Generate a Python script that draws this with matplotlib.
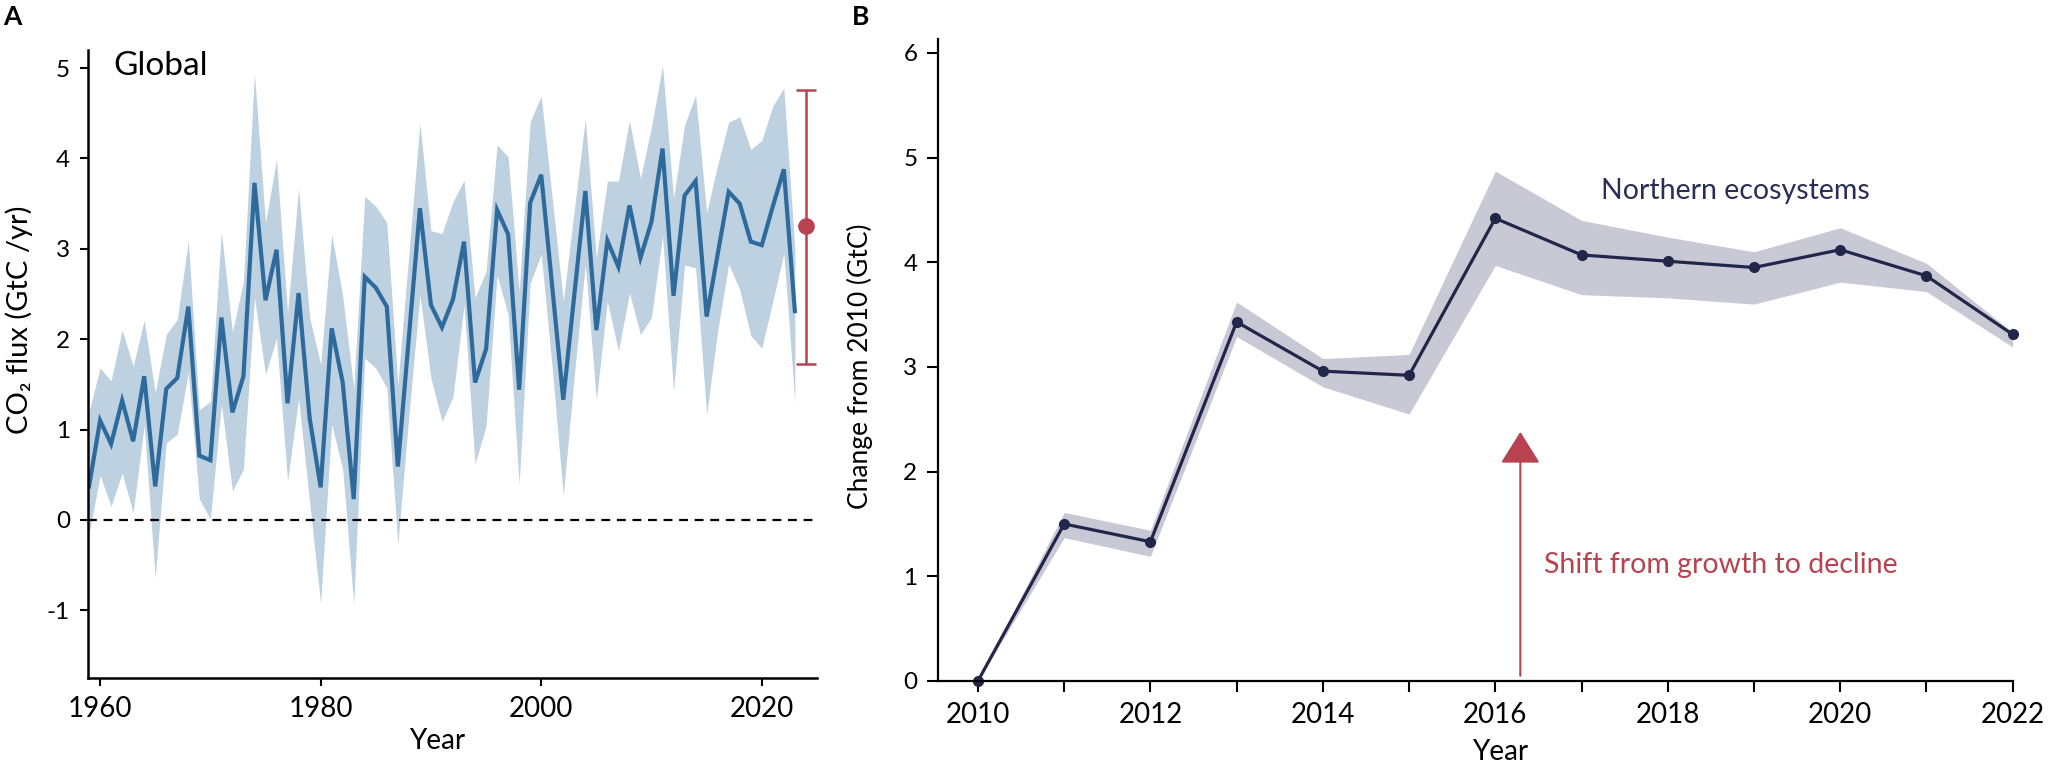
import numpy as np
import matplotlib.pyplot as plt
from matplotlib.ticker import MultipleLocator

plt.rcParams['font.family'] = ['Lato', 'DejaVu Sans']
plt.rcParams['axes.unicode_minus'] = False

# ---- Panel A: global land sink, 1959-2023 ----
years_a = np.arange(1959, 2024)
flux_mid = [0.37, 1.10, 0.84, 1.32, 0.87, 1.59, 0.37, 1.45, 1.57, 2.36,
            0.71, 0.66, 2.24, 1.19, 1.59, 3.73, 2.43, 2.99, 1.29, 2.51,
            1.13, 0.36, 2.12, 1.52, 0.23, 2.69, 2.57, 2.36, 0.59, 2.02,
            3.45, 2.38, 2.13, 2.44, 3.08, 1.52, 1.89, 3.43, 3.16, 1.44,
            3.51, 3.82, 2.58, 1.33, 2.49, 3.64, 2.10, 3.09, 2.80, 3.48,
            2.90, 3.30, 4.11, 2.48, 3.59, 3.75, 2.25, 2.94, 3.63, 3.50,
            3.08, 3.04, 3.47, 3.88, 2.31]
flux_hi = [1.20, 1.68, 1.54, 2.10, 1.70, 2.21, 1.41, 2.05, 2.22, 3.09,
           1.22, 1.31, 3.19, 2.08, 2.64, 4.94, 3.29, 3.99, 2.29, 3.67,
           2.24, 1.72, 3.16, 2.48, 1.46, 3.58, 3.47, 3.29, 1.50, 2.94,
           4.39, 3.20, 3.17, 3.52, 3.76, 2.46, 2.75, 4.15, 4.02, 2.53,
           4.41, 4.69, 3.56, 2.42, 3.43, 4.44, 2.90, 3.75, 3.75, 4.42,
           3.78, 4.35, 5.03, 3.56, 4.37, 4.70, 3.40, 3.93, 4.40, 4.46,
           4.10, 4.20, 4.58, 4.78, 3.00]
flux_lo = [-0.16, 0.49, 0.15, 0.52, 0.08, 1.05, -0.64, 0.85, 0.95, 1.63,
           0.23, 0.01, 1.28, 0.32, 0.56, 2.46, 1.61, 2.01, 0.43, 1.34,
           0.20, -0.93, 1.06, 0.56, -0.93, 1.79, 1.68, 1.46, -0.27, 1.15,
           2.49, 1.57, 1.09, 1.36, 2.38, 0.62, 1.04, 2.71, 2.27, 0.39,
           2.62, 2.94, 1.68, 0.27, 1.60, 2.83, 1.33, 2.42, 1.87, 2.51,
           2.05, 2.24, 3.14, 1.43, 2.82, 2.79, 1.17, 2.09, 2.83, 2.55,
           2.04, 1.90, 2.42, 2.95, 1.30]
proj_year = 2024
proj_mid, proj_lo, proj_hi = 3.25, 1.73, 4.76

# ---- Panel B: northern ecosystems, change from 2010 ----
years_b = np.arange(2010, 2023)
north_mid = [0.0, 1.50, 1.33, 3.43, 2.96, 2.92, 4.42, 4.07, 4.01, 3.95, 4.12, 3.87, 3.31]
north_hi = [0.0, 1.61, 1.44, 3.62, 3.08, 3.12, 4.87, 4.40, 4.24, 4.10, 4.33, 3.99, 3.33]
north_lo = [0.0, 1.37, 1.19, 3.29, 2.81, 2.55, 3.97, 3.69, 3.66, 3.60, 3.81, 3.72, 3.19]

blue = '#2e6b9c'
blue_band = '#bed1e1'
red = '#b8424f'
navy = '#23264b'
gray_band = '#c8c9d5'

fig = plt.figure(figsize=(20.5, 7.66), dpi=100)

# panel A
axA = fig.add_axes([0.0429, 0.1149, 0.3556, 0.8198])
axA.fill_between(years_a, flux_lo, flux_hi, color=blue_band, lw=0)
axA.plot(years_a, flux_mid, color=blue, lw=3.0, solid_joinstyle='miter')
axA.axhline(0, color='black', lw=1.6, ls=(0, (4, 3)))
axA.errorbar([proj_year], [proj_mid],
             yerr=[[proj_mid - proj_lo], [proj_hi - proj_mid]],
             fmt='o', color=red, ms=11, elinewidth=1.8, capsize=7, capthick=1.8,
             clip_on=False)
axA.text(1961.2, 5.02, 'Global', fontsize=24, va='center', ha='left')
axA.set_xlim(1958.9, 2025)
axA.set_ylim(-1.75, 5.2)
axA.set_xticks([1960, 1980, 2000, 2020])
axA.set_yticks(range(-1, 6))
axA.tick_params(axis='x', labelsize=20, length=6, width=1.5, pad=7)
axA.tick_params(axis='y', labelsize=17.5, length=6, width=1.5, pad=7)
for s in ['top', 'right']:
    axA.spines[s].set_visible(False)
for s in ['left', 'bottom']:
    axA.spines[s].set_linewidth(1.8)
axA.set_xlabel('Year', fontsize=20)
axA.xaxis.set_label_coords(0.479, -0.08)
axA.set_ylabel('CO₂ flux (GtC /yr)', fontsize=21)
axA.yaxis.set_label_coords(-0.076, 0.57)

# panel B
axB = fig.add_axes([0.4577, 0.111, 0.5241, 0.8377])
axB.fill_between(years_b, north_lo, north_hi, color=gray_band, lw=0)
axB.plot(years_b, north_mid, color=navy, lw=2.3, marker='o', ms=7, clip_on=False)
axB.annotate('', xy=(2016.29, 2.38), xytext=(2016.29, 0.05),
             arrowprops=dict(arrowstyle='-|>,head_length=0.4,head_width=0.25',
                             mutation_scale=50, color=red, lw=1.5,
                             shrinkA=0, shrinkB=0))
axB.text(2016.57, 1.11, 'Shift from growth to decline', color=red,
         fontsize=20.5, va='center', ha='left')
axB.text(2017.22, 4.68, 'Northern ecosystems', color='#2b2d55',
         fontsize=20.5, va='center', ha='left')
axB.set_xlim(2009.54, 2022)
axB.set_ylim(0, 6.13)
axB.xaxis.set_major_locator(MultipleLocator(2))
axB.xaxis.set_minor_locator(MultipleLocator(1))
axB.set_yticks(range(0, 7))
axB.tick_params(axis='x', which='both', labelsize=20, length=8, width=1.5, pad=7)
axB.tick_params(axis='y', labelsize=17.5, length=8, width=1.5, pad=7)
for s in ['top', 'right']:
    axB.spines[s].set_visible(False)
for s in ['left', 'bottom']:
    axB.spines[s].set_linewidth(1.6)
axB.set_xlabel('Year', fontsize=20)
axB.xaxis.set_label_coords(0.523, -0.09)
axB.set_ylabel('Change from 2010 (GtC)', fontsize=19)
axB.yaxis.set_label_coords(-0.061, 0.49)

fig.text(0.0015, 0.993, 'A', fontsize=19, fontweight='bold', va='top', ha='left')
fig.text(0.4155, 0.993, 'B', fontsize=19, fontweight='bold', va='top', ha='left')

fig.savefig('out.png', dpi=100)
